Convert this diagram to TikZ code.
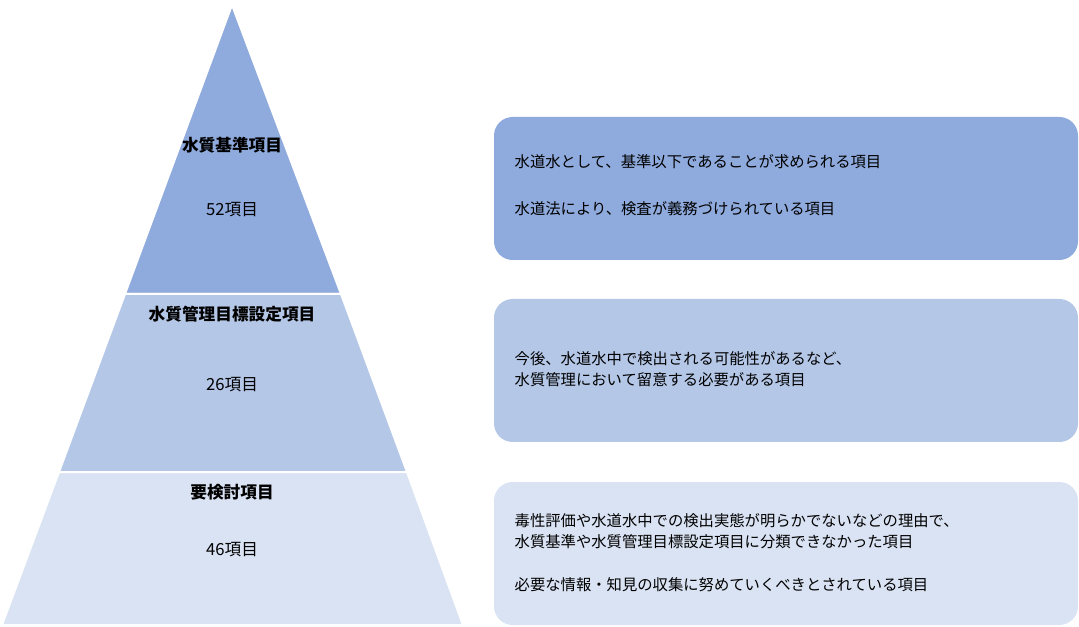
\documentclass[tikz,border=0pt]{standalone}
\usepackage{fontspec}
\setmainfont{Noto Sans CJK JP}
\definecolor{bandA}{HTML}{8FAADC}
\definecolor{bandB}{HTML}{B4C7E7}
\definecolor{bandC}{HTML}{DAE3F3}
\tikzset{
  band/.style={draw=white, line width=1.5pt},
  notebox/.style={rounded corners=14pt},
  title/.style={font=\fontsize{12.5}{15}\selectfont\bfseries},
  count/.style={font=\fontsize{12.5}{15}\selectfont},
  note/.style={font=\fontsize{11.5}{16}\selectfont, align=left, anchor=west}
}
\begin{document}
\begin{tikzpicture}[x=0.75pt, y=-0.75pt]
	\useasboundingbox (0,0) rectangle (1079,627);

	% pyramid bands
	\fill[bandA, band] (232,5) -- (341,294) -- (125,294) -- cycle;
	\fill[bandB, band] (125,294) -- (341,294) -- (407,472) -- (59,472) -- cycle;
	\fill[bandC, band] (59,472) -- (407,472) -- (463,625) -- (2,625) -- cycle;
	\draw[white, line width=1.5pt] (125,294) -- (341,294);
	\draw[white, line width=1.5pt] (59,472) -- (407,472);

	\node[title] (t1) at (232,145) {水質基準項目};
	\node[count] (c1) at (232,210) {52項目};
	\node[title] (t2) at (232,314) {水質管理目標設定項目};
	\node[count] (c2) at (232,385) {26項目};
	\node[title] (t3) at (232,492) {要検討項目};
	\node[count] (c3) at (232,550) {46項目};

	% note boxes
	\fill[bandA, notebox] (494,117) rectangle (1078,260);
	\fill[bandB, notebox] (494,299) rectangle (1078,442);
	\fill[bandC, notebox] (494,482) rectangle (1078,625);

	\node[note] (n1) at (510,162) {水道水として、基準以下であることが求められる項目};
	\node[note] (n2) at (510,209) {水道法により、検査が義務づけられている項目};
	\node[note] (n3) at (510,369) {今後、水道水中で検出される可能性があるなど、\\水質管理において留意する必要がある項目};
	\node[note] (n4) at (510,531) {毒性評価や水道水中での検出実態が明らかでないなどの理由で、\\水質基準や水質管理目標設定項目に分類できなかった項目};
	\node[note] (n5) at (510,585) {必要な情報・知見の収集に努めていくべきとされている項目};
\end{tikzpicture}
\end{document}
